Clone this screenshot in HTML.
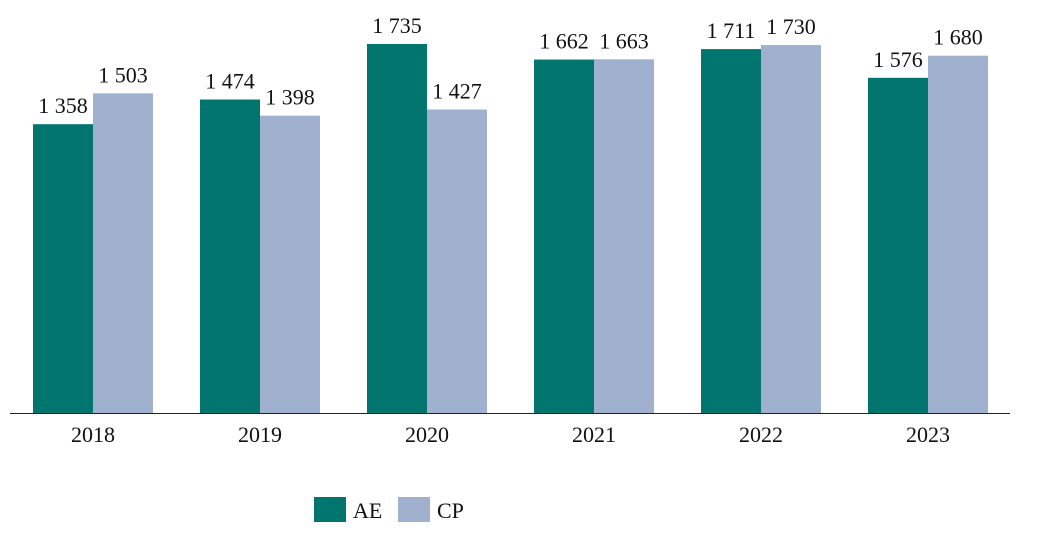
<!DOCTYPE html>
<html><head><meta charset="utf-8"><style>
html,body{margin:0;padding:0;background:#fff;}
svg text{font-family:"Liberation Serif",serif;fill:#111;}
</style></head><body>
<svg id="chart" width="1037" height="536" xmlns="http://www.w3.org/2000/svg"></svg>
<script>
const categories=["2018","2019","2020","2021","2022","2023"];
const aeValues=[1358,1474,1735,1662,1711,1576];
const cpValues=[1503,1398,1427,1663,1730,1680];
const aeLabels=["1 358","1 474","1 735","1 662","1 711","1 576"];
const cpLabels=["1 503","1 398","1 427","1 663","1 730","1 680"];
const NS="http://www.w3.org/2000/svg";
const svg=document.getElementById('chart');
const baseY=413, scale=(413-44)/1735;
const y=v=>baseY-v*scale;
const xc=i=>93+i*167;
const bw=60;
function mk(t,a){const e=document.createElementNS(NS,t);for(const k in a)e.setAttribute(k,a[k]);svg.appendChild(e);return e;}
categories.forEach((c,i)=>{
  const r1=mk('rect',{x:xc(i)-bw,y:y(aeValues[i]),width:bw,height:baseY-y(aeValues[i]),fill:'#02766e'});
  
  
  const r2=mk('rect',{x:xc(i),y:y(cpValues[i]),width:bw,height:baseY-y(cpValues[i]),fill:'#9fb1cf'});
  
  
  const t1=mk('text',{x:xc(i)-bw/2,y:y(aeValues[i])-11,'text-anchor':'middle','font-size':22});
  t1.textContent=aeLabels[i];
  
  
  const t2=mk('text',{x:xc(i)+bw/2,y:y(cpValues[i])-11,'text-anchor':'middle','font-size':22});
  t2.textContent=cpLabels[i];
  
  
  const t3=mk('text',{x:xc(i),y:442,'text-anchor':'middle','font-size':22});
  t3.textContent=c;
  
  
});
const ax=mk('line',{x1:10,x2:1010,y1:baseY+0.5,y2:baseY+0.5,stroke:'#222','stroke-width':1});


const s1=mk('rect',{x:314,y:497,width:32,height:25,fill:'#02766e'});


const l1=mk('text',{x:353,y:518,'font-size':22});l1.textContent='AE';


const s2=mk('rect',{x:398,y:497,width:32,height:25,fill:'#9fb1cf'});


const l2=mk('text',{x:437,y:518,'font-size':22});l2.textContent='CP';


</script>
</body></html>
